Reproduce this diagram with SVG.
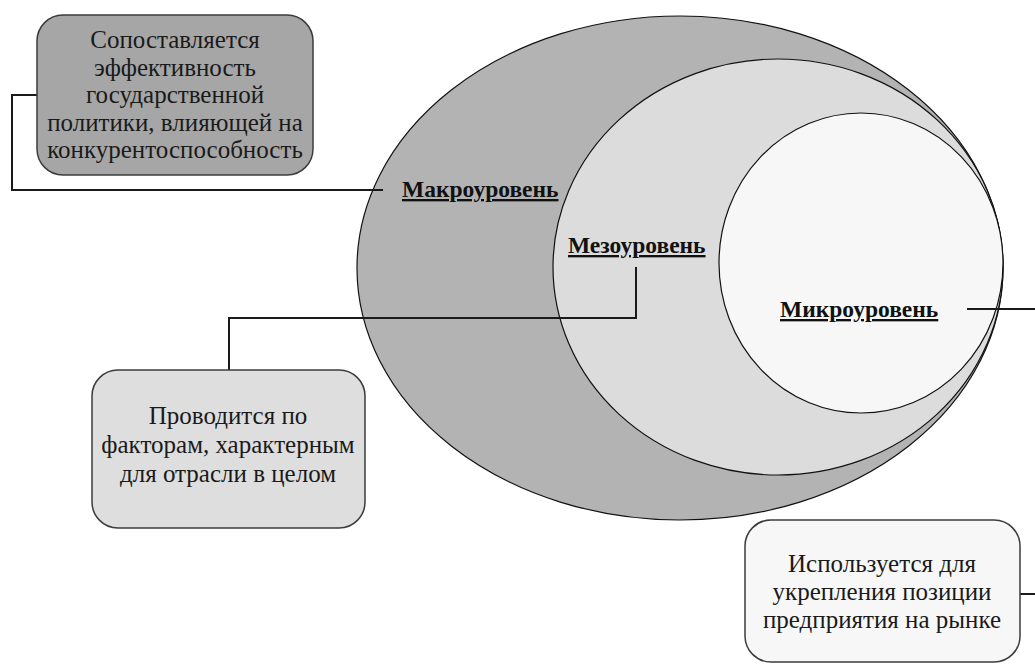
<svg xmlns="http://www.w3.org/2000/svg" width="1035" height="666" viewBox="0 0 1035 666">
<style>
.box{stroke:#3c3c3c;stroke-width:1.5}
.ell{stroke:#111;stroke-width:1.2}
.t{font-family:"Liberation Serif","Times New Roman",serif;font-size:25px;fill:#1a1a1a;text-anchor:middle}
.lbl{font-family:"Liberation Serif","Times New Roman",serif;font-size:23.5px;font-weight:bold;fill:#111;text-decoration:underline}
.con{fill:none;stroke:#1a1a1a;stroke-width:2}
</style>
<rect width="1035" height="666" fill="#ffffff"/>
<g id="macro">
<ellipse class="ell" cx="680" cy="268" rx="323" ry="252" fill="#b3b3b3"/>
<text class="lbl" x="402" y="197">Макроуровень</text>
</g>
<g id="meso">
<ellipse class="ell" cx="778" cy="267" rx="225" ry="208" fill="#dcdcdc"/>
<text class="lbl" x="568" y="253">Мезоуровень</text>
</g>
<g id="micro">
<ellipse class="ell" cx="861" cy="263" rx="142" ry="150" fill="#f7f7f7"/>
<text class="lbl" x="780" y="317">Микроуровень</text>
</g>
<g id="connectors">
<path class="con" d="M37 95 H12 V190 H383"/>
<path class="con" d="M229 370 V318 H636 V267"/>
<path class="con" d="M967 309 H1038 V594 H1020"/>
</g>
<g id="box-macro">
<rect class="box" x="37" y="15" width="276" height="160" rx="26" fill="#a6a6a6"/>
<text class="t" x="175" y="48">Сопоставляется</text>
<text class="t" x="175" y="75.5">эффективность</text>
<text class="t" x="175" y="103">государственной</text>
<text class="t" x="175" y="130.5">политики, влияющей на</text>
<text class="t" x="175" y="158">конкурентоспособность</text>
</g>
<g id="box-meso">
<rect class="box" x="92" y="370" width="273" height="158" rx="26" fill="#dedede"/>
<text class="t" x="228" y="424">Проводится по</text>
<text class="t" x="228" y="453">факторам, характерным</text>
<text class="t" x="228" y="482">для отрасли в целом</text>
</g>
<g id="box-micro">
<rect class="box" x="745" y="520" width="275" height="142" rx="26" fill="#f7f7f7"/>
<text class="t" x="882" y="572">Используется для</text>
<text class="t" x="882" y="600">укрепления позиции</text>
<text class="t" x="882" y="628">предприятия на рынке</text>
</g>
</svg>
